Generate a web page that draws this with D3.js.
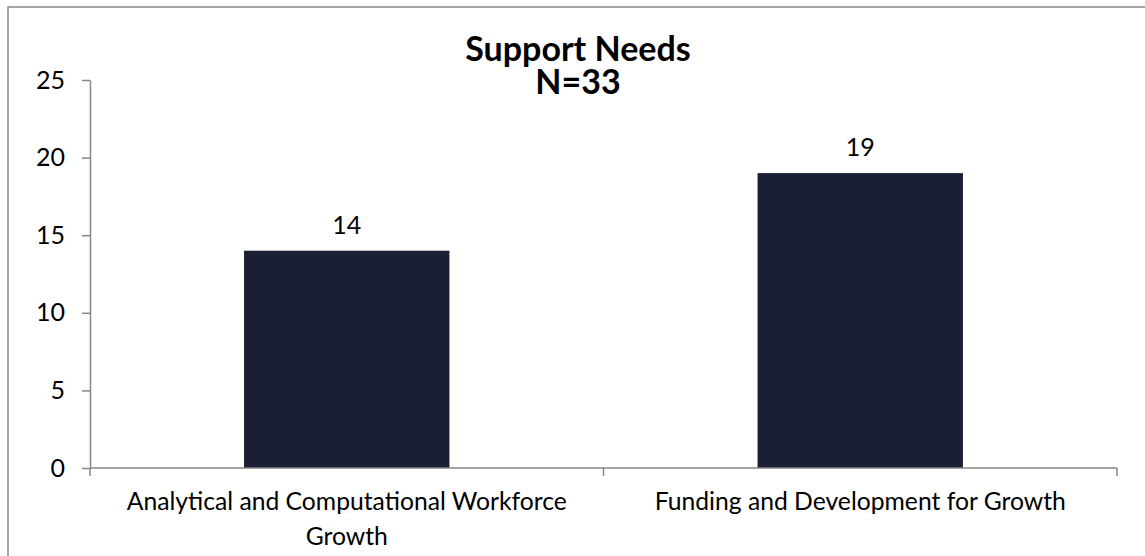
<!DOCTYPE html>
<html><head><meta charset="utf-8">
<script src="https://cdn.jsdelivr.net/npm/d3@7"></script>
<style>body{margin:0;background:#fff}svg{display:block}text{font-family:Lato,"Open Sans",sans-serif;fill:#000}</style>
</head><body>
<script>
const categories = [["Analytical and Computational Workforce","Growth"],["Funding and Development for Growth"]];
const values = [14, 19];
const yTicks = [0,5,10,15,20,25];
const titleLines = ["Support Needs","N=33"];

const W=1145,H=556;
const svg=d3.select("body").append("svg").attr("width",W).attr("height",H);
svg.append("rect").attr("x",8).attr("y",7).attr("width",1200).attr("height",700)
  .attr("fill","none").attr("stroke","#898989").attr("stroke-width",1.5);

const x0=90,x1=1117,yTop=80,yBot=468;
const x=d3.scaleBand().domain(d3.range(values.length)).range([x0,x1]).paddingInner(0.6).paddingOuter(0.3);
const y=d3.scaleLinear().domain([0,25]).range([yBot,yTop]);

// bars
svg.selectAll("rect.bar").data(values).join("rect").attr("class","bar")
  .attr("x",(d,i)=>x(i)).attr("width",x.bandwidth())
  .attr("y",d=>y(d)).attr("height",d=>y(0)-y(d)).attr("fill","#1b1f36");

// y axis
const ya=svg.append("g").attr("transform",`translate(${x0},0)`)
  .call(d3.axisLeft(y).tickValues(yTicks).tickSize(8).tickSizeOuter(0).tickPadding(17));
ya.select(".domain").attr("stroke","#868686").attr("stroke-width",1.5);
ya.selectAll(".tick line").attr("stroke","#868686").attr("stroke-width",1.5);
ya.selectAll(".tick text").attr("font-size",25).attr("font-family","Lato").attr("fill","#000");

// x axis
const xa=svg.append("g");
const bounds=[x0,(x0+x1)/2,x1];
xa.append("line").attr("x1",x0).attr("x2",x1).attr("y1",yBot).attr("y2",yBot).attr("stroke","#868686").attr("stroke-width",1.5);
xa.selectAll("line.t").data(bounds).join("line").attr("class","t")
  .attr("x1",d=>d).attr("x2",d=>d).attr("y1",yBot).attr("y2",yBot+8).attr("stroke","#868686").attr("stroke-width",1.5);
categories.forEach((lines,i)=>{
  const t=svg.append("text").attr("text-anchor","middle").attr("font-size",24.7);
  lines.forEach((l,j)=>t.append("tspan").attr("x",x(i)+x.bandwidth()/2).attr("y",510+j*35).text(l));
});

// value labels
svg.selectAll("text.val").data(values).join("text").attr("class","val")
  .attr("x",(d,i)=>x(i)+x.bandwidth()/2).attr("y",d=>y(d)-17)
  .attr("text-anchor","middle").attr("font-size",25).text(d=>d);

// title
titleLines.forEach((l,j)=>svg.append("text").attr("text-anchor","middle").attr("font-size",34)
  .attr("font-weight","bold").attr("x",578).attr("y",61+j*33).text(l));
</script>
</body></html>
